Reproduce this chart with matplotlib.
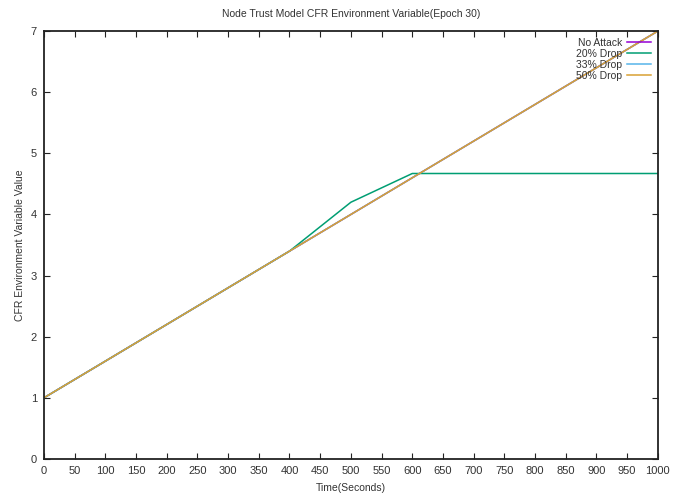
import numpy as np
from matplotlib import pyplot as plt

plt.rcParams['font.family'] = ['Liberation Sans', 'DejaVu Sans']
plt.rcParams['text.color'] = '#333333'
plt.rcParams['axes.labelcolor'] = '#333333'
plt.rcParams['xtick.labelcolor'] = '#333333'
plt.rcParams['ytick.labelcolor'] = '#333333'

time = [0, 100, 200, 300, 400, 500, 600, 700, 800, 900, 1000]
no_attack = [1.0, 1.6, 2.2, 2.8, 3.4, 4.0, 4.6, 5.2, 5.8, 6.4, 7.0]
drop_20 = [1.0, 1.6, 2.2, 2.8, 3.4, 4.2, 4.67, 4.67, 4.67, 4.67, 4.67]
drop_33 = [1.0, 1.6, 2.2, 2.8, 3.4, 4.0, 4.6, 5.2, 5.8, 6.4, 7.0]
drop_50 = [1.0, 1.6, 2.2, 2.8, 3.4, 4.0, 4.6, 5.2, 5.8, 6.4, 7.0]

series = [('No Attack', no_attack, '#9400d3'),
          ('20% Drop', drop_20, '#009e73'),
          ('33% Drop', drop_33, '#56b4e9'),
          ('50% Drop', drop_50, '#d9a033')]

fig = plt.figure(figsize=(6.86, 4.93), dpi=100)
ax = fig.add_axes([0.064, 0.069, 0.895, 0.868])
for label, vals, color in series:
    ax.plot(time, vals, color=color, lw=1.1, label=label)

ax.set_xlim(0, 1000)
ax.set_ylim(0, 7)
ax.set_xticks(np.arange(0, 1001, 50))
ax.set_yticks(np.arange(0, 8, 1))
ax.tick_params(direction='in', top=True, right=True, labelsize=8, length=4, width=0.8,
               color='#222222', pad=5)
for s in ax.spines.values():
    s.set_linewidth(1.3)
    s.set_color('#222222')
ax.set_title('Node Trust Model CFR Environment Variable(Epoch 30)', fontsize=7.5, pad=10)
ax.set_xlabel('Time(Seconds)', fontsize=7.5, labelpad=5)
ax.set_ylabel('CFR Environment Variable Value', fontsize=7.5, labelpad=4)
ax.legend(loc='upper right', frameon=False, markerfirst=False, fontsize=7.5,
          handlelength=2.3, labelspacing=0.1, borderaxespad=0.25, handletextpad=0.5)

fig.savefig('out.png', dpi=100)
